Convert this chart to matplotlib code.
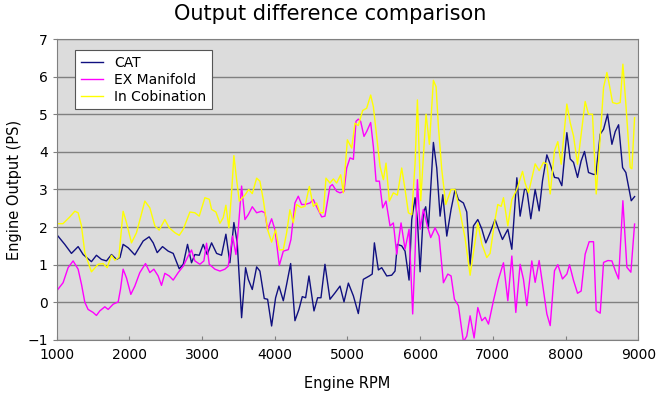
import numpy as np
import matplotlib
matplotlib.use("Agg")
import matplotlib.pyplot as plt

# values
cat_rpm = [1000, 1110, 1202, 1294, 1363, 1477, 1546, 1615, 1684, 1753, 1822, 1870,
           1913, 1982, 2074, 2189, 2271, 2327, 2382, 2455, 2533, 2602, 2685, 2740,
           2799, 2854, 2900, 2960, 3015, 3070, 3130, 3199, 3267, 3327, 3382, 3437,
           3483, 3543, 3598, 3635, 3690, 3750, 3795, 3855, 3901, 3956, 4011, 4057,
           4117, 4163, 4218, 4277, 4332, 4378, 4424, 4470, 4539, 4589, 4635, 4690,
           4759, 4828, 4897, 4952, 5012, 5081, 5149, 5218, 5301, 5340, 5370, 5425,
           5471, 5540, 5608, 5654, 5686, 5746, 5792, 5847, 5884, 5930, 5962, 5999,
           6044, 6076, 6113, 6182, 6228, 6274, 6311, 6366, 6425, 6480, 6526, 6595,
           6641, 6687, 6733, 6793, 6848, 6903, 6962, 7031, 7077, 7132, 7206, 7261,
           7330, 7375, 7435, 7467, 7522, 7582, 7637, 7683, 7743, 7789, 7848, 7903,
           7949, 8018, 8064, 8110, 8165, 8215, 8261, 8316, 8385, 8417, 8477, 8523,
           8578, 8638, 8684, 8730, 8785, 8830, 8904, 8950]
cat_ps = [1.80, 1.54, 1.30, 1.48, 1.27, 1.08, 1.25, 1.14, 1.10, 1.27, 1.14, 1.19,
          1.54, 1.45, 1.26, 1.63, 1.74, 1.58, 1.32, 1.48, 1.36, 1.30, 0.89, 1.01,
          1.54, 1.05, 1.27, 1.25, 1.54, 1.27, 1.58, 1.30, 1.25, 1.81, 1.05, 2.12,
          1.58, -0.41, 0.92, 0.61, 0.34, 0.94, 0.83, 0.10, 0.08, -0.63, 0.12, 0.43,
          0.04, 0.48, 1.03, -0.49, -0.19, 0.15, 0.12, 0.70, -0.23, 0.12, 0.12, 1.01,
          0.08, 0.25, 0.43, 0.01, 0.51, 0.17, -0.30, 0.61, 0.70, 0.75, 1.58, 0.86,
          0.92, 0.70, 0.72, 0.83, 1.54, 1.50, 1.36, 0.59, 2.20, 2.78, 2.20, 0.81,
          2.38, 2.54, 1.96, 4.25, 3.57, 2.29, 2.86, 1.76, 2.47, 3.00, 2.73, 2.64,
          2.40, 1.01, 2.03, 2.20, 1.95, 1.58, 1.85, 2.20, 1.95, 1.67, 1.94, 1.41,
          3.31, 2.29, 3.00, 3.00, 2.22, 3.00, 2.43, 3.23, 3.92, 3.67, 3.32, 3.30,
          3.10, 4.51, 3.81, 3.72, 3.32, 3.76, 4.01, 3.45, 3.40, 3.40, 4.47, 4.60,
          5.00, 4.20, 4.54, 4.72, 3.58, 3.45, 2.70, 2.81]

ex_rpm = [1000, 1018, 1087, 1156, 1225, 1294, 1340, 1386, 1431, 1500, 1546, 1592,
          1661, 1707, 1776, 1845, 1877, 1913, 1959, 2019, 2074, 2143, 2221, 2281,
          2336, 2395, 2441, 2487, 2547, 2602, 2671, 2740, 2808, 2854, 2900, 2969,
          3024, 3061, 3098, 3176, 3245, 3313, 3359, 3419, 3465, 3497, 3543, 3589,
          3635, 3690, 3750, 3818, 3864, 3901, 3956, 4002, 4062, 4117, 4186, 4222,
          4277, 4323, 4369, 4415, 4484, 4530, 4576, 4645, 4690, 4759, 4792, 4851,
          4897, 4952, 4989, 5035, 5081, 5117, 5149, 5181, 5227, 5264, 5319, 5356,
          5393, 5439, 5484, 5530, 5585, 5631, 5677, 5737, 5792, 5847, 5897, 5930,
          5962, 5999, 6044, 6099, 6145, 6205, 6260, 6320, 6380, 6425, 6471, 6526,
          6595, 6641, 6687, 6742, 6793, 6848, 6894, 6940, 7008, 7077, 7146, 7206,
          7261, 7316, 7375, 7421, 7467, 7536, 7582, 7637, 7683, 7743, 7789, 7848,
          7894, 7958, 8018, 8055, 8110, 8165, 8215, 8270, 8325, 8385, 8422, 8477,
          8523, 8583, 8638, 8684, 8730, 8789, 8844, 8899, 8950]
ex_ps = [0.30, 0.35, 0.52, 0.92, 1.10, 0.88, 0.48, 0.00, -0.19, -0.27, -0.35, -0.23,
         -0.12, -0.19, -0.05, 0.01, 0.35, 0.88, 0.65, 0.21, 0.43, 0.79, 1.03, 0.79,
         0.88, 0.70, 0.45, 0.77, 0.70, 0.59, 0.79, 0.96, 1.23, 1.39, 1.10, 1.01,
         1.10, 1.57, 1.01, 0.88, 0.83, 0.88, 0.96, 1.76, 1.27, 1.94, 3.09, 2.20,
         2.33, 2.54, 2.38, 2.42, 2.38, 1.93, 2.22, 1.93, 0.98, 1.36, 1.40, 1.67,
         2.64, 2.82, 2.60, 2.60, 2.64, 2.73, 2.54, 2.27, 2.29, 3.08, 3.13, 2.95,
         2.91, 2.95, 3.57, 3.84, 3.80, 4.81, 4.87, 4.81, 4.41, 4.54, 4.78, 4.14,
         3.22, 3.22, 2.51, 2.69, 2.03, 2.11, 1.28, 2.11, 1.41, 1.94, -0.31, 1.30,
         3.26, 1.94, 2.47, 2.03, 1.72, 1.98, 1.76, 0.52, 0.75, 0.70, 0.08, -0.09,
         -1.05, -0.90, -0.36, -0.95, -0.14, -0.49, -0.40, -0.58, 0.04, 0.61, 1.05, 0.04,
         1.23, -0.27, 1.01, 0.61, -0.09, 1.10, 0.53, 1.11, 0.49, -0.31, -0.62, 0.84,
         1.00, 0.62, 0.75, 1.00, 0.58, 0.24, 0.30, 1.28, 1.61, 1.61, -0.22, -0.29,
         1.06, 1.11, 1.10, 0.84, 0.62, 2.70, 0.93, 0.80, 2.08]

combo_rpm = [1000, 1085, 1180, 1248, 1294, 1340, 1386, 1477, 1569, 1638, 1693, 1753,
             1799, 1854, 1913, 1959, 2028, 2097, 2212, 2281, 2350, 2409, 2487, 2547,
             2625, 2685, 2740, 2832, 2900, 2960, 3038, 3098, 3130, 3190, 3245, 3290,
             3327, 3368, 3405, 3437, 3474, 3511, 3589, 3640, 3690, 3750, 3795, 3841,
             3901, 3956, 4011, 4062, 4117, 4163, 4208, 4254, 4300, 4360, 4415, 4475,
             4530, 4576, 4622, 4668, 4704, 4759, 4805, 4851, 4906, 4943, 4998, 5058,
             5103, 5149, 5209, 5264, 5319, 5356, 5402, 5448, 5494, 5530, 5576, 5631,
             5686, 5746, 5792, 5838, 5884, 5930, 5962, 6008, 6044, 6081, 6127, 6182,
             6219, 6251, 6297, 6352, 6425, 6480, 6549, 6618, 6687, 6747, 6793, 6848,
             6916, 6962, 7022, 7068, 7114, 7146, 7206, 7261, 7330, 7408, 7444, 7490,
             7582, 7637, 7697, 7743, 7789, 7848, 7894, 7940, 8018, 8064, 8110, 8165,
             8215, 8270, 8316, 8371, 8422, 8477, 8523, 8569, 8601, 8647, 8706, 8752,
             8789, 8830, 8890, 8913, 8950]
combo_ps = [2.09, 2.09, 2.27, 2.42, 2.38, 2.03, 1.32, 0.81, 1.01, 1.03, 0.92, 1.25,
            1.12, 1.19, 2.42, 2.12, 1.58, 1.85, 2.69, 2.51, 2.03, 1.92, 2.20, 1.98,
            1.85, 1.78, 1.94, 2.40, 2.38, 2.29, 2.78, 2.74, 2.47, 2.40, 2.10, 2.25,
            2.58, 1.98, 2.91, 3.90, 3.27, 2.69, 2.85, 3.00, 2.89, 3.30, 3.22, 2.73,
            1.93, 1.60, 1.93, 1.39, 1.40, 1.85, 2.46, 2.11, 2.60, 2.52, 2.55, 3.08,
            2.55, 2.64, 2.38, 2.38, 3.30, 3.17, 3.28, 3.17, 3.39, 2.91, 4.32, 4.10,
            4.76, 4.70, 5.10, 5.16, 5.51, 5.20, 4.41, 3.61, 3.26, 3.70, 2.69, 2.91,
            2.85, 3.57, 3.00, 2.38, 2.33, 3.70, 5.38, 2.70, 3.88, 5.00, 4.20, 5.90,
            5.73, 4.67, 3.53, 2.60, 3.00, 3.00, 2.40, 1.70, 0.72, 1.50, 2.11, 1.55,
            1.19, 1.30, 2.11, 2.60, 2.55, 2.78, 2.03, 2.73, 3.00, 3.48, 3.17, 2.91,
            3.68, 3.50, 3.72, 3.68, 2.88, 4.03, 4.27, 3.67, 5.27, 4.78, 4.42, 3.67,
            4.47, 5.34, 5.00, 5.00, 2.88, 4.38, 5.71, 6.11, 5.80, 5.31, 5.28, 5.31,
            6.33, 5.27, 3.58, 3.55, 4.91]

fig = plt.figure(figsize=(6.6, 3.98), dpi=100)
ax = fig.add_axes([0.086, 0.146, 0.881, 0.756])
ax.set_facecolor('#dcdcdc')

ax.plot(cat_rpm, cat_ps, color='#101080', lw=1.0, label='CAT')
ax.plot(ex_rpm, ex_ps, color='#ff00ff', lw=1.0, label='EX Manifold')
ax.plot(combo_rpm, combo_ps, color='#ffff00', lw=1.0, label='In Cobination')

ax.set_xlim(1000, 9000)
ax.set_ylim(-1, 7)
ax.set_xticks(range(1000, 9001, 1000))
ax.set_yticks(range(-1, 8))
ax.yaxis.grid(True, color='#808080', lw=1.0)
ax.set_axisbelow(True)
for s in ax.spines.values():
    s.set_color('#808080')
ax.tick_params(axis='x', direction='in', length=3, color='#808080', labelsize=10, pad=6)
ax.tick_params(axis='y', direction='out', length=3, color='#808080', labelsize=10)

ax.set_xlabel('Engine RPM', fontsize=10.5, labelpad=10)
ax.set_ylabel('Engine Output (PS)', fontsize=10.5, labelpad=4)
fig.suptitle('Output difference comparison', fontsize=15, y=0.99)

leg = ax.legend(loc='upper left', bbox_to_anchor=(0.02, 0.985), fontsize=10,
                fancybox=False, framealpha=1, edgecolor='#555555',
                handlelength=1.6, borderpad=0.4, labelspacing=0.2)
leg.get_frame().set_linewidth(0.8)

plt.savefig('out.png', dpi=100)
